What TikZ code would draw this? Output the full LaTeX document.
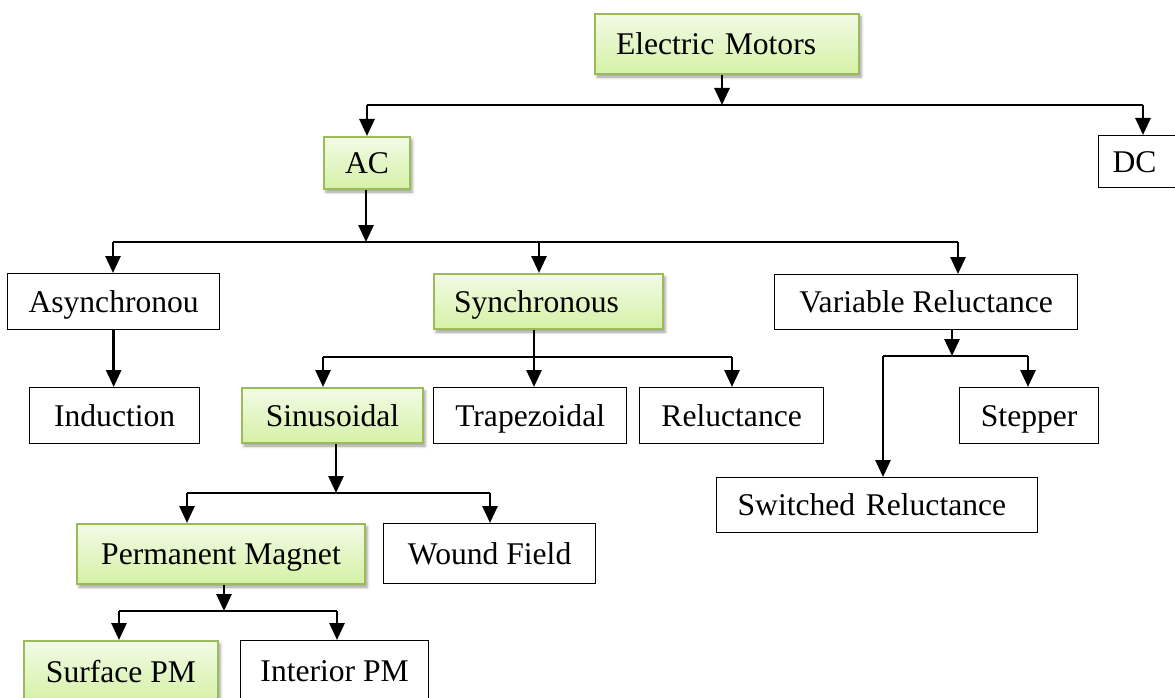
\documentclass[tikz,border=0pt]{standalone}
\usepackage{fontspec}
\setmainfont{Liberation Serif}
\usetikzlibrary{arrows.meta,shadows.blur}
\definecolor{leafline}{HTML}{9BBB59}
\definecolor{leaftop}{HTML}{F2FBE6}
\definecolor{leafbot}{HTML}{D5F1A6}
\tikzset{
  box/.style={draw=black, line width=1.3pt, fill=white, inner sep=0pt,
    anchor=north west, font=\fontsize{31.6pt}{38pt}\selectfont,
    text height=21pt, text depth=0pt},
  gbox/.style={box, draw=leafline, line width=2pt,
    top color=leaftop, bottom color=leafbot,
    blur shadow={shadow xshift=2pt, shadow yshift=-3pt,
      shadow blur radius=3pt, shadow opacity=40}},
  bus/.style={line width=1.4pt},
  lead/.style={line width=1.4pt},
  arr/.style={line width=2.8pt, -{Triangle[width=15pt,length=17pt]}},
}
\begin{document}
\begin{tikzpicture}[x=1pt,y=-1pt]
\useasboundingbox (0,0) rectangle (1175,698);

% ---- boxes ----
\node[gbox, minimum width=264pt, minimum height=60pt, align=left,
  inner xsep=21pt, text width=222pt] (em) at (594,13) {Electric Motors};
\node[gbox, minimum width=86pt, minimum height=52pt] (ac) at (323,136) {AC};
\node[box, minimum width=80pt, minimum height=52pt, align=left,
  inner xsep=14pt, text width=52pt] (dc) at (1098,135) {DC};

\node[box, minimum width=212pt, minimum height=56pt] (asy) at (7,273) {Asynchronou};
\node[gbox, minimum width=229pt, minimum height=55pt, align=left,
  inner xsep=20pt, text width=189pt] (syn) at (433,273) {Synchronous};
\node[box, minimum width=303pt, minimum height=55pt] (vr) at (774,274) {Variable Reluctance};

\node[box, minimum width=170pt, minimum height=56pt] (ind) at (29,387) {Induction};
\node[gbox, minimum width=181pt, minimum height=55pt] (sin) at (241,387) {Sinusoidal};
\node[box, minimum width=193pt, minimum height=56pt] (trap) at (433,387) {Trapezoidal};
\node[box, minimum width=184pt, minimum height=56pt] (rel) at (639,387) {Reluctance};
\node[box, minimum width=139pt, minimum height=56pt] (stp) at (959,387) {Stepper};
\node[box, minimum width=321pt, minimum height=55pt, align=left,
  inner xsep=21pt, text width=279pt] (sw) at (716,477) {Switched Reluctance};

\node[gbox, minimum width=288pt, minimum height=60pt] (pm) at (76,523) {Permanent Magnet};
\node[box, minimum width=212pt, minimum height=60pt] (wf) at (383,523) {Wound Field};

\node[gbox, minimum width=194pt, minimum height=61pt] (spm) at (23,640) {Surface PM};
\node[box, minimum width=188pt, minimum height=61pt] (ipm) at (240,640) {Interior PM};

% ---- junctions and bus ends ----
\coordinate (j1) at (722,105);
\coordinate (b1l) at (367,105);
\coordinate (b1r) at (1143,105);
\coordinate (j2) at (366,242);
\coordinate (b2l) at (113,242);
\coordinate (b2m) at (539,242);
\coordinate (b2r) at (958,242);
\coordinate (j3) at (534,357);
\coordinate (b3l) at (323,357);
\coordinate (b3r) at (732,357);
\coordinate (j4) at (952,356);
\coordinate (b4l) at (883,356);
\coordinate (b4r) at (1028,356);
\coordinate (j5) at (336,493);
\coordinate (b5l) at (187,493);
\coordinate (b5r) at (490,493);
\coordinate (j6) at (224,611);
\coordinate (b6l) at (119,611);
\coordinate (b6r) at (337,611);

% Electric Motors -> AC / DC
\draw[arr] (em.south -| j1) -- (j1);
\draw[bus] (b1l) -- (b1r);
\draw[arr] (b1l) -- (b1l |- ac.north);
\draw[arr] (b1r) -- (b1r |- dc.north);

% AC -> three families
\draw[arr] (ac.south -| j2) -- (j2);
\draw[bus] (b2l) -- (b2r);
\draw[arr] (b2l) -- (b2l |- asy.north);
\draw[arr] (b2m) -- (b2m |- syn.north);
\draw[arr] (b2r) -- (b2r |- vr.north);

% Asynchronou -> Induction
\draw[arr] (asy.south) -- (asy.south |- ind.north);

% Synchronous -> Sinusoidal / Trapezoidal / Reluctance
\draw[lead] (syn.south -| j3) -- (j3);
\draw[bus] (b3l) -- (b3r);
\draw[arr] (b3l) -- (b3l |- sin.north);
\draw[arr] (j3) -- (j3 |- trap.north);
\draw[arr] (b3r) -- (b3r |- rel.north);

% Variable Reluctance -> Stepper / Switched Reluctance
\draw[arr] (vr.south -| j4) -- (j4);
\draw[bus] (b4l) -- (b4r);
\draw[arr] (b4r) -- (b4r |- stp.north);
\draw[arr] (b4l) -- (b4l |- sw.north);

% Sinusoidal -> Permanent Magnet / Wound Field
\draw[arr] (sin.south -| j5) -- (j5);
\draw[bus] (b5l) -- (b5r);
\draw[arr] (b5l) -- (b5l |- pm.north);
\draw[arr] (b5r) -- (b5r |- wf.north);

% Permanent Magnet -> Surface PM / Interior PM
\draw[arr] (pm.south -| j6) -- (j6);
\draw[bus] (b6l) -- (b6r);
\draw[arr] (b6l) -- (b6l |- spm.north);
\draw[arr] (b6r) -- (b6r |- ipm.north);
\end{tikzpicture}
\end{document}
